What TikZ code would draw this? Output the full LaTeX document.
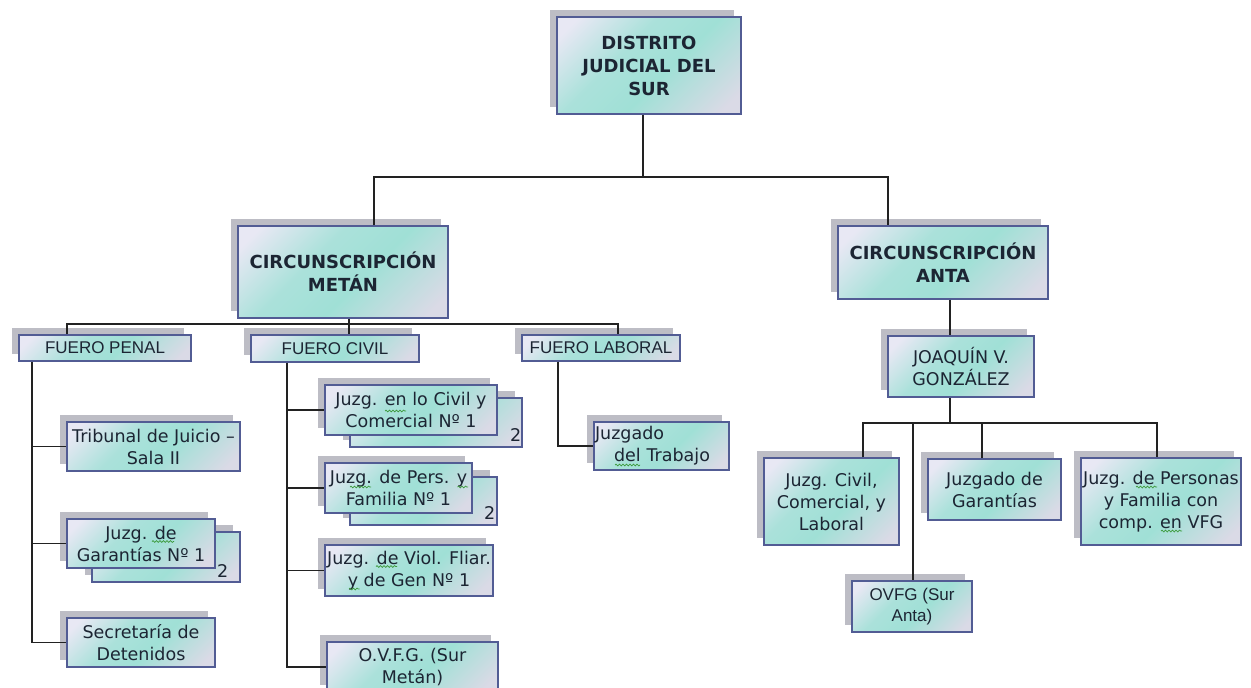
\documentclass[tikz,border=0pt]{standalone}
\usepackage{fontspec}
\setmainfont{DejaVu Sans}
\newfontfamily\arialf{Liberation Sans}
\usetikzlibrary{shadows,decorations.pathmorphing}
\definecolor{cTeal}{HTML}{A0E0D6}
\definecolor{cLav}{HTML}{E8E8F4}
\definecolor{cLavB}{HTML}{DADAE6}
\definecolor{cBorder}{HTML}{525C94}
\definecolor{cShadow}{HTML}{BDBDC5}
\definecolor{cText}{HTML}{1C2533}
\definecolor{cLine}{HTML}{222222}
\definecolor{cSq}{HTML}{3C9A3C}
\pgfdeclareverticalshading{boxshade}{100bp}{color(0bp)=(cLavB); color(20bp)=(cLavB); color(44bp)=(cTeal); color(60bp)=(cTeal!85!cLav); color(80bp)=(cLav); color(100bp)=(cLav)}
\tikzset{
  shad/.style={drop shadow={shadow xshift=-7pt, shadow yshift=7pt, fill=cShadow, opacity=1}},
  box/.style={draw=cBorder, line width=1.2pt, shade, shading=boxshade, shading angle=45, shad,
    align=center, inner sep=1pt, text=cText, font=\fontsize{17.5}{22}\selectfont},
  titlebox/.style={box, font=\fontsize{18}{23}\selectfont\bfseries},
  fuero/.style={box, font=\arialf\fontsize{17}{20}\selectfont},
  arialbox/.style={box, font=\arialf\fontsize{17}{21}\selectfont},
  wh/.style 2 args={minimum width=#1pt, minimum height=#2pt},
  conn/.style={draw=cLine, line width=1.4pt},
  numlbl/.style={text=cText, font=\fontsize{17.5}{20}\selectfont, inner sep=0pt},
  sq/.style={draw=cSq, line width=0.7pt, decorate, decoration={snake, amplitude=0.9pt, segment length=3.5pt}},
}
\begin{document}
\begin{tikzpicture}[x=1pt,y=-1pt]
\fill[white] (0,0) rectangle (1251,688);
\useasboundingbox (0,0) rectangle (1251,688);

% top levels
\node[titlebox, wh={184}{97}] (dist) at (649,65.5) {DISTRITO\\JUDICIAL DEL\\SUR};
\node[titlebox, wh={210}{92}] (metan) at (343,272) {CIRCUNSCRIPCIÓN\\METÁN};
\node[titlebox, wh={210}{73}] (anta) at (943,262.5) {CIRCUNSCRIPCIÓN\\ANTA};

% fueros
\node[fuero, wh={172}{26}] (fpenal) at (105,348) {FUERO PENAL};
\node[fuero, wh={168}{27}] (fcivil) at (335,348.5) {FUERO CIVIL};
\node[fuero, wh={158}{26}] (flab) at (601,348) {FUERO LABORAL};

% fuero penal
\node[box, wh={173}{49}] (trib) at (153.5,446.5) {Tribunal de Juicio –\\Sala II};
\node[box, wh={148}{50}] (jgarb) at (166,557) {};
\node[numlbl] (n2c) at ([xshift=-18pt,yshift=12pt]jgarb.south east) {2};
\node[box, wh={148}{49}] (jgar) at (141,543.5) {Juzg. de\\Garantías Nº 1};
\node[box, wh={148}{49}] (secr) at (141,642.5) {Secretaría de\\Detenidos};

% fuero civil
\node[box, wh={172}{49}] (jcivb) at (436,422.5) {};
\node[numlbl] (n2a) at ([xshift=-7pt,yshift=13pt]jcivb.south east) {2};
\node[box, wh={172}{50}] (jciv) at (411,410) {Juzg. en lo Civil y\\Comercial Nº 1};
\node[box, wh={147}{48}] (jpersb) at (423.5,501) {};
\node[numlbl] (n2b) at ([xshift=-8pt,yshift=13pt]jpersb.south east) {2};
\node[box, wh={147}{50}] (jpers) at (398.5,488) {Juzg. de Pers. y\\Familia Nº 1};
\node[box, wh={168}{51}] (viol) at (409,570.5) {Juzg. de Viol. Fliar.\\y de Gen Nº 1};
\node[box, wh={171}{50}] (ovfgm) at (412.5,667) {O.V.F.G. (Sur\\Metán)};

% fuero laboral
\node[box, minimum height=48pt, align=left, text width=133pt, inner xsep=1pt] (jtrab) at (661.5,446) {Juzgado\\\hspace*{19pt}del Trabajo};

% Anta
\node[box, wh={146}{61}] (joaq) at (961,366.5) {JOAQUÍN V.\\GONZÁLEZ};
\node[box, wh={135}{87}] (jccl) at (831.5,501.5) {Juzg. Civil,\\Comercial, y\\Laboral};
\node[box, wh={133}{61}] (jgarA) at (994.5,489.5) {Juzgado de\\Garantías};
\node[box, wh={160}{87}] (jpersA) at (1161,501.5) {Juzg. de Personas\\y Familia con\\comp. en VFG};
\node[arialbox, wh={120}{51}] (ovfgA) at (912,606.5) {OVFG (Sur\\Anta)};

% spell-check squiggles
\draw[sq] ([shift={(11pt,2pt)}]jgar.center) -- ++(22,0);
\draw[sq] ([shift={(-26pt,-1pt)}]jciv.center) -- ++(21,0);
\draw[sq] ([shift={(-48.5pt,1pt)}]jpers.center) -- ++(21,0);
\draw[sq] ([shift={(59pt,1pt)}]jpers.center) -- ++(10.5,0);
\draw[sq] ([shift={(-33pt,4pt)}]viol.center) -- ++(21,0);
\draw[sq] ([shift={(-60pt,-18.5pt)}]viol.center) -- ++(10.5,0);
\draw[sq] ([shift={(-46.5pt,-19pt)}]jtrab.center) -- ++(25,0);
\draw[sq] ([shift={(-25pt,14.5pt)}]jpersA.center) -- ++(21,0);
\draw[sq] ([shift={(0pt,-29.5pt)}]jpersA.center) -- ++(21,0);

% connectors: top
\coordinate (b0) at (643,177);
\coordinate (b0L) at (374,177);
\coordinate (b0R) at (888,177);
\draw[conn] (dist.south -| b0) -- (b0);
\draw[conn] (metan.north -| b0L) -- (b0L) -- (b0R) -- (anta.north -| b0R);

% Metan bus
\coordinate (b1) at (349,324);
\coordinate (b1L) at (67,324);
\coordinate (b1R) at (618,324);
\draw[conn] (metan.south -| b1) -- (fcivil.north -| b1);
\draw[conn] (fpenal.north -| b1L) -- (b1L) -- (b1R) -- (flab.north -| b1R);

% penal
\coordinate (pX) at (32,0);
\draw[conn] (fpenal.south -| pX) |- (secr.west);
\draw[conn] (trib.west -| pX) -- (trib.west);
\draw[conn] (jgar.west -| pX) -- (jgar.west);

% civil
\coordinate (cX) at (287,0);
\draw[conn] (fcivil.south -| cX) |- (ovfgm.west);
\draw[conn] (jciv.west -| cX) -- (jciv.west);
\draw[conn] (jpers.west -| cX) -- (jpers.west);
\draw[conn] (viol.west -| cX) -- (viol.west);

% laboral
\coordinate (lX) at (558,0);
\draw[conn] (flab.south -| lX) |- (jtrab.west);

% Anta
\coordinate (aX) at (950,0);
\draw[conn] (anta.south -| aX) -- (joaq.north -| aX);
\coordinate (b2) at (950,423);
\coordinate (b2L) at (863,423);
\coordinate (b2R) at (1157,423);
\coordinate (b2a) at (913,423);
\coordinate (b2b) at (982,423);
\draw[conn] (joaq.south -| b2) -- (b2);
\draw[conn] (jccl.north -| b2L) -- (b2L) -- (b2R) -- (jpersA.north -| b2R);
\draw[conn] (b2a) -- (ovfgA.north -| b2a);
\draw[conn] (b2b) -- (jgarA.north -| b2b);
\end{tikzpicture}
\end{document}
